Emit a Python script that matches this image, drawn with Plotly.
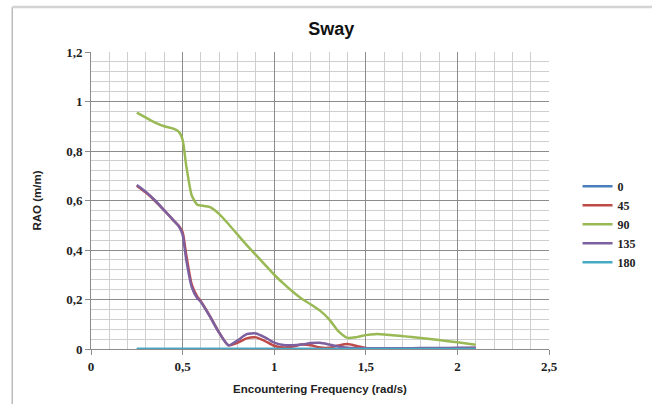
import plotly.graph_objects as go

freq = [0.25, 0.3, 0.35, 0.4, 0.45, 0.48, 0.5, 0.52, 0.55, 0.58, 0.6, 0.65, 0.7, 0.75,
        0.8, 0.85, 0.9, 0.95, 1.0, 1.05, 1.1, 1.15, 1.2, 1.25, 1.3, 1.35, 1.4, 1.45,
        1.5, 1.55, 1.6, 1.7, 1.8, 1.9, 2.0, 2.1]

rao_0 = [0.0] * len(freq)
rao_45 = [0.66, 0.632, 0.598, 0.56, 0.52, 0.497, 0.472, 0.38, 0.26, 0.212, 0.192, 0.132, 0.066, 0.015,
          0.025, 0.043, 0.047, 0.032, 0.013, 0.006, 0.01, 0.018, 0.015, 0.006, 0.005, 0.014, 0.02, 0.012,
          0.004, 0.002, 0.002, 0.002, 0.002, 0.002, 0.003, 0.004]
rao_90 = [0.955, 0.935, 0.915, 0.9, 0.89, 0.877, 0.845, 0.74, 0.62, 0.583, 0.58, 0.573, 0.545, 0.505,
          0.462, 0.42, 0.38, 0.34, 0.3, 0.265, 0.232, 0.203, 0.18, 0.155, 0.12, 0.072, 0.045, 0.048,
          0.056, 0.06, 0.059, 0.052, 0.044, 0.036, 0.027, 0.017]
rao_135 = [0.663, 0.635, 0.6, 0.56, 0.52, 0.495, 0.462, 0.36, 0.25, 0.205, 0.19, 0.13, 0.065, 0.015,
           0.035, 0.06, 0.063, 0.047, 0.026, 0.016, 0.015, 0.018, 0.024, 0.025, 0.018, 0.01, 0.005, 0.003,
           0.003, 0.003, 0.003, 0.003, 0.004, 0.004, 0.005, 0.005]
rao_180 = [0.0] * len(freq)

series = [("0", rao_0, "#4A7EBB"), ("45", rao_45, "#BE4B48"), ("90", rao_90, "#98B954"),
          ("135", rao_135, "#7D60A0"), ("180", rao_180, "#46AAC5")]

x_ticks = [0, 0.5, 1, 1.5, 2, 2.5]
y_ticks = [0, 0.2, 0.4, 0.6, 0.8, 1, 1.2]

fig = go.Figure()
for name, vals, color in series:
    fig.add_trace(go.Scatter(x=freq, y=vals, name="<b>%s</b>" % name, mode="lines",
                             line=dict(color=color, width=2.5, shape="spline", smoothing=0.6)))

tick_font = dict(family="Liberation Serif", size=13, color="#222")
title_font = dict(family="Liberation Sans", size=11.5, color="#222")

fig.update_layout(
    width=652, height=404,
    margin=dict(l=91, r=102, t=52, b=55),
    paper_bgcolor="white", plot_bgcolor="white",
    separators=", ",
    title=dict(text="<b>Sway</b>", x=0.508, xanchor="center", y=0.93, yanchor="middle",
               font=dict(family="Liberation Sans", size=18, color="#111")),
    legend=dict(x=1.06, xanchor="left", y=0.42, yanchor="middle",
                font=dict(family="Liberation Serif", size=12, color="#222"),
                itemwidth=30, tracegroupgap=0, bgcolor="rgba(0,0,0,0)"),
    showlegend=True,
)

fig.update_xaxes(range=[0, 2.5], tickvals=x_ticks, automargin=False,
                 ticktext=[("<b>%s</b>" % str(v).replace(".", ",")) for v in x_ticks],
                 showgrid=True, gridcolor="#8c8c8c", gridwidth=1,
                 minor=dict(dtick=0.1, showgrid=True, gridcolor="#cfcfcf", gridwidth=1),
                 showline=True, linecolor="#8c8c8c", linewidth=1,
                 ticks="outside", ticklen=5, tickcolor="#8c8c8c",
                 tickfont=tick_font, zeroline=False,
                 title=dict(text="<b>Encountering Frequency (rad/s)</b>", font=title_font, standoff=12))
fig.update_yaxes(range=[0, 1.2], tickvals=y_ticks, automargin=False,
                 ticktext=[("<b>%s</b>" % str(v).replace(".", ",")) for v in y_ticks],
                 showgrid=True, gridcolor="#8c8c8c", gridwidth=1,
                 minor=dict(dtick=0.04, showgrid=True, gridcolor="#cfcfcf", gridwidth=1),
                 showline=True, linecolor="#8c8c8c", linewidth=1,
                 ticks="outside", ticklen=5, tickcolor="#8c8c8c",
                 tickfont=tick_font, zeroline=False,
                 title=dict(text="<b>RAO (m/m)</b>", font=title_font, standoff=22))

# outer chart frame (left and top edges)
fig.add_shape(type="line", xref="paper", yref="paper", x0=-79 / 459, x1=-79 / 459,
              y0=-60 / 297, y1=342 / 297, line=dict(color="#9a9a9a", width=1))
fig.add_shape(type="line", xref="paper", yref="paper", x0=-79 / 459, x1=580 / 459,
              y0=342 / 297, y1=342 / 297, line=dict(color="#d4d4d4", width=2.5))

fig.write_html("out.html", config={"displayModeBar": False},
               post_script="document.body.style.margin='0px';")
